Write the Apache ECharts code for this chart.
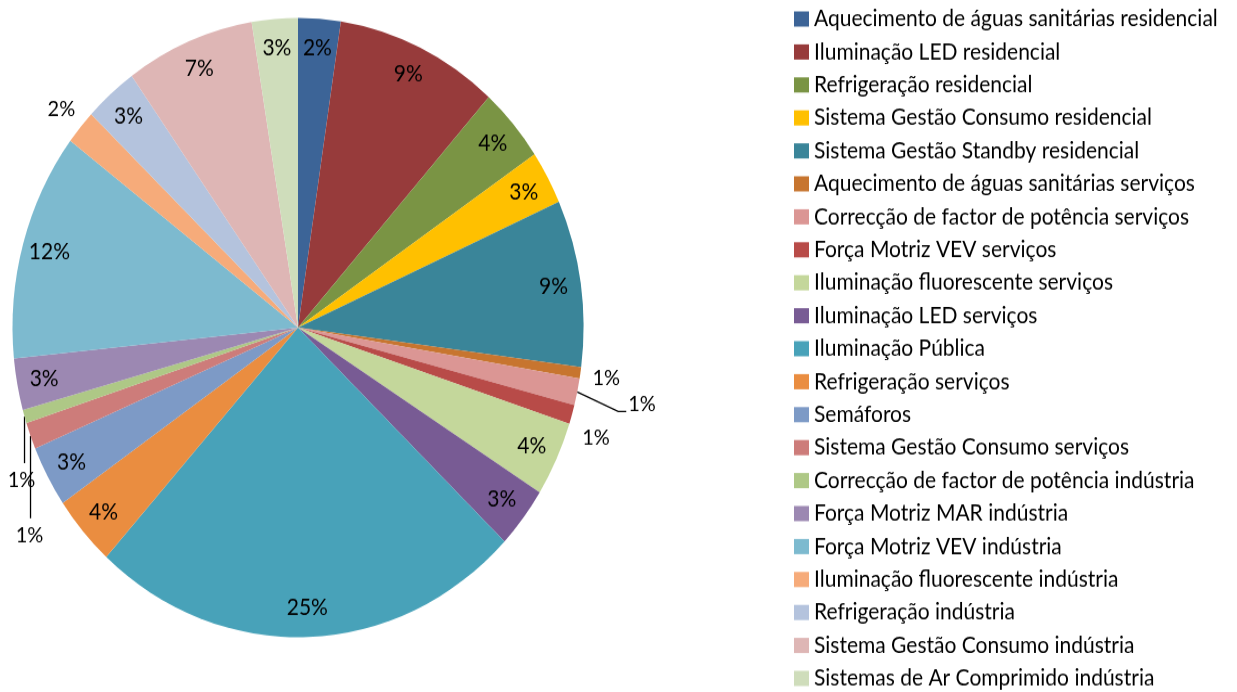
<!DOCTYPE html>
<html>
<head>
<meta charset="utf-8">
<script src="https://cdn.jsdelivr.net/npm/echarts@6/dist/echarts.min.js"></script>
<style>
html,body{margin:0;padding:0;background:#fff;overflow:hidden;}
#wrap{width:1237px;height:692px;position:relative;overflow:visible;}
#c{width:1237px;height:638px;transform:scaleY(1.0846);transform-origin:0 0;}
</style>
</head>
<body>
<div id="wrap"><div id="c"></div></div>
<script>
const categories = [
  "Aquecimento de águas sanitárias residencial",
  "Iluminação LED residencial",
  "Refrigeração residencial",
  "Sistema Gestão Consumo residencial",
  "Sistema Gestão Standby residencial",
  "Aquecimento de águas sanitárias serviços",
  "Correcção de factor de potência serviços",
  "Força Motriz VEV serviços",
  "Iluminação fluorescente serviços",
  "Iluminação LED serviços",
  "Iluminação Pública",
  "Refrigeração serviços",
  "Semáforos",
  "Sistema Gestão Consumo serviços",
  "Correcção de factor de potência indústria",
  "Força Motriz MAR indústria",
  "Força Motriz VEV indústria",
  "Iluminação fluorescente indústria",
  "Refrigeração indústria",
  "Sistema Gestão Consumo indústria",
  "Sistemas de Ar Comprimido indústria"
];
const values = [2.4, 9.25, 3.9, 2.8, 8.7, 0.6, 1.4, 1.0, 3.9, 3.2, 24.6, 3.7, 3.2, 1.4, 0.7, 2.7, 11.9, 1.8, 3.0, 7.3, 2.6];
const colors = ["#3C6497", "#973B3B", "#7A9444", "#FFC000", "#3A8599", "#C7752F", "#DB9694", "#B84B48",
  "#C4D79B", "#785B94", "#48A2B9", "#EA8D40", "#7D9AC6", "#CD7C7A", "#AEC886", "#9C88B2",
  "#7DBACF", "#F6AB7A", "#B4C3DD", "#DEB6B5", "#CFDDBB"];
const outsideIdx = [5, 6, 7, 13, 14, 17];

const FONT = "Lato";
const pct = p => Math.round(p.percent) + "%";

// label offsets relative to the slice's outer edge point
const OUT = {
  5:  { lx: 12, ly: 5, align: "left", line: null },
  6:  { lx: 51, ly: 11, align: "left", line: [[0, 0], [41, 18], [49, 18]] },
  7:  { lx: 24, ly: 21, align: "center", line: null },
  13: { lx: -1, ly: 92, align: "center", line: [[0, 0], [0, 38], [0, 76]] },
  14: { lx: -3, ly: 59, align: "center", line: [[0, 0], [0, 22], [0, 43]] },
  17: { lx: -19, ly: -17, align: "center", line: null }
};

const mainData = categories.map((n, i) => {
  const d = { name: n, value: values[i], itemStyle: { color: colors[i] } };
  if (outsideIdx.includes(i)) {
    d.label = { show: true, position: "outside" };
    d.labelLine = { show: true, lineStyle: { color: OUT[i].line ? "#000" : "rgba(0,0,0,0)" } };
  }
  return d;
});
const overlayData = categories.map((n, i) => ({
  name: n, value: values[i],
  label: { show: !outsideIdx.includes(i) }
}));

const chart = echarts.init(document.getElementById("c"), null, { renderer: "canvas" });
chart.setOption({
  animation: false,
  color: colors,
  legend: {
    type: "plain",
    orient: "vertical",
    left: 794,
    top: 7,
    bottom: 0,
    padding: 0,
    icon: "rect",
    itemWidth: 15,
    itemHeight: 14,
    itemGap: 9.4,
    data: categories,
    textStyle: { fontFamily: FONT, fontSize: 21, lineHeight: 21, color: "#000" },
    selectedMode: false
  },
  series: [
    {
      type: "pie",
      center: [298, 302],
      radius: 285.5,
      startAngle: 90,
      clockwise: true,
      avoidLabelOverlap: false,
      silent: true,
      data: mainData,
      itemStyle: { borderWidth: 0 },
      label: { show: false, formatter: pct, fontFamily: FONT, fontSize: 20, color: "#000" },
      labelLine: { show: false, length: 10, length2: 8, smooth: false, lineStyle: { width: 1.3, color: "#000" } },
      labelLayout: function (params) {
        const o = OUT[params.dataIndex];
        if (!o || !params.labelLinePoints) return {};
        const p = params.labelLinePoints[0];
        const pts = (o.line || [[0, 0], [0, 0], [0, 0]]).map(d => [p[0] + d[0], p[1] + d[1]]);
        return { x: p[0] + o.lx, y: p[1] + o.ly, align: o.align, verticalAlign: "middle", labelLinePoints: pts };
      }
    },
    {
      type: "pie",
      center: [298, 302],
      radius: [225, 285.5],
      startAngle: 90,
      clockwise: true,
      avoidLabelOverlap: false,
      silent: true,
      legendHoverLink: false,
      data: overlayData,
      itemStyle: { color: "rgba(0,0,0,0)", borderWidth: 0 },
      label: { position: "inside", formatter: pct, fontFamily: FONT, fontSize: 21, color: "#000" },
      labelLine: { show: false }
    }
  ]
});
</script>
</body>
</html>
